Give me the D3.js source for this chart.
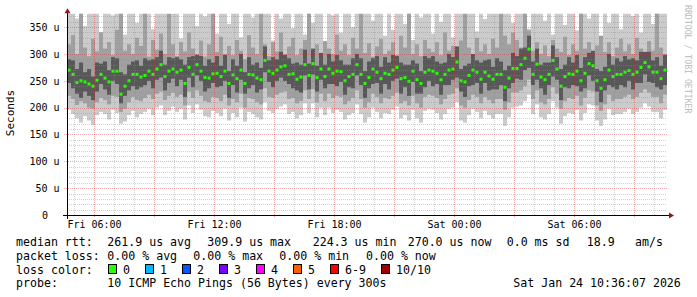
<!DOCTYPE html>
<html>
<head>
<meta charset="utf-8">
<script src="https://cdn.jsdelivr.net/npm/d3@7"></script>
<style>
    body { margin: 0; background: #fff; }
    text { font-family: "DejaVu Sans Mono", monospace; fill: #000; }
    .tick text { font-size: 10px; }
    .legend { font-size: 11.6px; white-space: pre; }
    .credit { font-size: 8.2px; fill: #bbb; }
</style>
</head>
<body>
<script>
// ---- data (values in microseconds, one column per 12 minutes) ----
const median = [
270,262,247,250,248,244,240,251,262,255,
248,268,268,225,240,250,262,262,257,260,
268,262,272,280,258,268,272,266,270,245,
275,262,280,268,256,255,263,264,258,268,
245,261,254,270,245,262,261,255,252,288,
268,264,270,276,278,262,263,253,257,280,
260,282,256,272,258,272,264,268,267,250,
258,262,280,262,245,256,272,266,254,264,
262,270,275,254,256,249,268,252,245,266,
270,268,264,252,262,270,272,285,250,248,
260,270,266,253,266,259,253,262,262,238,
255,273,273,280,292,309,262,281,257,252,
262,288,272,240,258,263,262,268,250,264,
282,278,250,236,252,270,258,262,262,266,
269,262,266,275,284,276,266,266,254,270
];

// outer smoke (fastest / slowest ping)
const pingMin = [
196,188,180,172,184,176,168,186,192,188,
178,196,190,170,174,186,194,182,188,192,
198,186,200,204,186,194,202,192,198,178,
204,190,206,196,184,182,194,190,184,198,
176,190,182,200,174,192,188,182,178,210,
194,190,198,202,206,188,192,180,186,208,
190,208,182,200,186,200,190,196,192,178,
186,190,206,188,172,182,200,192,180,190,
188,196,202,180,186,176,196,180,172,194,
198,196,190,178,188,198,200,210,176,172,
186,198,192,180,194,186,180,188,188,166,
182,200,202,204,212,224,188,206,182,178,
188,212,200,170,184,190,188,196,176,190,
206,204,176,166,178,198,186,188,188,192,
198,188,192,200,208,202,192,192,180,196
];
const pingMax = [
380,380,366,380,352,380,380,380,341,380,
380,372,380,380,336,380,380,358,380,380,
380,346,380,380,380,363,380,380,329,380,
380,380,352,380,370,380,380,338,380,380,
356,380,380,331,380,380,368,380,344,380,
380,325,380,366,380,380,348,380,380,336,
380,358,380,380,322,380,372,380,340,380,
380,350,380,328,380,380,362,380,380,334,
380,345,380,380,356,380,326,380,368,380,
380,338,380,360,380,380,331,380,380,352,
380,380,342,380,365,380,380,380,339,380,
380,358,380,380,380,347,380,380,380,362,
380,336,380,380,354,380,380,344,380,380,
366,380,380,332,380,358,380,380,346,380,
380,371,380,340,380,380,356,380,380,380
];

// middle smoke
const midLow = [
222,216,205,212,208,200,198,210,218,214,
206,222,220,192,198,210,220,214,212,218,
224,216,226,230,214,222,228,220,224,204,
230,218,232,222,212,210,220,218,212,224,
204,216,210,226,200,218,216,210,206,236,
220,218,224,228,230,216,218,208,212,232,
216,234,210,226,212,226,218,222,220,206,
212,218,232,216,200,210,226,220,208,218,
216,222,228,208,212,204,222,208,200,220,
224,222,218,206,216,224,226,236,204,200,
214,224,220,208,220,214,208,216,216,196,
210,228,228,232,240,252,216,232,210,206,
216,238,226,198,212,218,216,222,204,218,
232,230,204,194,206,224,212,216,216,220,
224,216,220,228,234,228,220,220,208,224
];
const midHigh = [
318,335,300,380,312,296,328,305,340,310,
322,298,345,380,306,318,300,330,315,380,
295,326,308,338,300,380,318,296,322,305,
340,310,300,325,295,318,380,304,332,300,
315,298,326,306,290,335,312,300,380,318,
296,322,305,340,300,314,330,298,310,326,
380,305,318,296,324,310,300,336,306,318,
298,330,310,380,302,320,295,314,328,300,
306,322,298,334,312,380,300,318,296,326,
310,304,322,298,340,306,315,300,325,380,
312,296,330,305,318,300,328,312,380,334,
318,340,326,312,380,344,306,322,300,316,
296,326,310,304,332,298,318,306,380,310,
322,300,316,334,304,322,296,312,328,305,
318,300,330,310,296,324,306,380,312,300
];

// inner smoke
const coreLow = [
246,236,226,218,230,222,214,230,244,234,
224,250,244,208,222,232,240,234,238,242,
250,236,252,256,232,246,254,240,252,220,
256,238,260,250,230,236,246,238,240,250,
218,242,228,252,226,236,242,228,234,266,
248,238,250,256,250,244,236,232,228,260,
234,262,230,252,236,244,244,240,248,224,
238,236,260,242,218,236,244,246,226,244,
234,250,254,226,238,222,248,226,226,238,
250,240,244,224,242,242,252,256,230,220,
240,242,246,226,246,232,234,234,242,212,
236,246,254,252,270,274,242,252,236,224,
242,258,252,214,238,236,242,240,230,236,
260,250,230,210,232,242,238,234,242,238,
250,234,246,246,262,248,246,238,234,242
];
const coreHigh = [
290,288,272,284,266,272,258,284,282,286,
270,294,292,266,262,280,286,288,278,292,
288,290,294,306,280,294,292,294,290,280,
294,296,298,296,278,290,284,296,278,298,
268,290,278,300,266,294,280,284,274,314,
288,294,290,304,298,292,282,284,280,308,
282,310,278,302,280,300,286,298,288,280,
280,292,300,292,268,286,292,296,276,294,
284,298,296,284,280,280,288,282,268,296,
292,296,286,282,284,300,294,314,272,278,
282,300,288,284,288,290,276,292,286,270,
278,302,296,310,312,334,286,310,280,284,
284,316,294,272,280,294,284,298,274,294,
302,306,272,268,276,300,280,292,286,296,
290,292,288,304,304,304,288,294,278,298
];

const yTicks = [0, 50, 100, 150, 200, 250, 300, 350];

const statLines = [
    ["median rtt:", "261.9 us avg", "309.9 us max", "224.3 us min", "270.0 us now", "0.0 ms sd", "18.9", "am/s"],
    ["packet loss:", "0.00 % avg", "0.00 % max", "0.00 % min", "0.00 % now"],
    ["probe:", "10 ICMP Echo Pings (56 Bytes) every 300s", "Sat Jan 24 10:36:07 2026"]
];
const statX = [
    [16, 107.3, 207.3, 312.7, 407.7, 506.7, 586.7, 635],
    [16, 107.3, 193.3, 279.3, 366],
    [16, 107.3, 513.3]
];

const lossLabels = ["0", "1", "2", "3", "4", "5", "6-9", "10/10"];
const lossColors = ["#26ff00", "#00b8ff", "#0059ff", "#7e00ff", "#ff00ff", "#ff5e00", "#ff0000", "#a10000"];

// ---- layout ----
const width = 697;
const height = 297;
const plotLeft = 67, plotRight = 667, plotBottom = 215, plotTop = 13.7;

const start = new Date(Date.UTC(2026, 0, 23, 4, 39));
const stepMs = 12 * 60 * 1000;
const end = new Date(start.getTime() + median.length * stepMs);
const times = median.map(function (d, i) {
    return new Date(start.getTime() + i * stepMs);
});

const x = d3.scaleUtc().domain([start, end]).range([plotLeft, plotRight]);
const y = d3.scaleLinear().domain([0, 375]).range([plotBottom, plotTop]);

const svg = d3.select("body")
    .append("svg")
    .attr("width", width)
    .attr("height", height);

svg.append("rect")
    .attr("width", width)
    .attr("height", height)
    .attr("fill", "#fff");

svg.append("defs").append("clipPath")
    .attr("id", "plot")
    .append("rect")
    .attr("x", plotLeft)
    .attr("y", plotTop)
    .attr("width", plotRight - plotLeft)
    .attr("height", plotBottom - plotTop);

const plot = svg.append("g").attr("clip-path", "url(#plot)");

// smoke layers, outer to inner
const layers = [
    { lo: pingMin, hi: pingMax, color: "#cbcbcb" },
    { lo: midLow, hi: midHigh, color: "#a0a0a0" },
    { lo: coreLow, hi: coreHigh, color: "#585858" }
];

layers.forEach(function (layer) {
    plot.append("g")
        .selectAll("rect")
        .data(times)
        .enter()
        .append("rect")
        .attr("x", function (d) { return x(d); })
        .attr("width", function (d) { return x(new Date(d.getTime() + stepMs)) - x(d); })
        .attr("y", function (d, i) { return y(layer.hi[i]); })
        .attr("height", function (d, i) { return y(layer.lo[i]) - y(layer.hi[i]); })
        .attr("fill", layer.color);
});

// median markers (loss colour 0)
plot.append("g")
    .selectAll("rect")
    .data(median)
    .enter()
    .append("rect")
    .attr("x", function (d, i) { return x(times[i]) + 0.5; })
    .attr("width", function (d, i) { return x(new Date(times[i].getTime() + stepMs)) - x(times[i]) - 1; })
    .attr("y", function (d) { return y(d) - 1.5; })
    .attr("height", 3)
    .attr("fill", lossColors[0]);

// grid, drawn over the data like rrdtool does (semi transparent)
const minorColor = "rgba(140,140,140,0.4)";
const majorColor = "rgba(215,40,40,0.38)";
const grid = svg.append("g").attr("shape-rendering", "crispEdges");

grid.selectAll(".hminor")
    .data(d3.range(10, 376, 10).filter(function (v) { return v % 50 !== 0; }))
    .enter()
    .append("line")
    .attr("x1", plotLeft).attr("x2", plotRight)
    .attr("y1", function (d) { return Math.round(y(d)) + 0.5; })
    .attr("y2", function (d) { return Math.round(y(d)) + 0.5; })
    .attr("stroke", minorColor)
    .attr("stroke-dasharray", "1,1");

grid.selectAll(".vminor")
    .data(d3.utcHour.range(start, end).filter(function (d) { return d.getUTCHours() % 3 !== 0; }))
    .enter()
    .append("line")
    .attr("x1", function (d) { return Math.round(x(d)) + 0.5; })
    .attr("x2", function (d) { return Math.round(x(d)) + 0.5; })
    .attr("y1", plotTop).attr("y2", plotBottom)
    .attr("stroke", minorColor)
    .attr("stroke-dasharray", "1,1");

grid.selectAll(".hmajor")
    .data(yTicks.slice(1))
    .enter()
    .append("line")
    .attr("x1", plotLeft - 3).attr("x2", plotRight)
    .attr("y1", function (d) { return Math.round(y(d)) + 0.5; })
    .attr("y2", function (d) { return Math.round(y(d)) + 0.5; })
    .attr("stroke", majorColor)
    .attr("stroke-dasharray", "1,1");

grid.selectAll(".vmajor")
    .data(d3.utcHour.every(3).range(start, end))
    .enter()
    .append("line")
    .attr("x1", function (d) { return Math.round(x(d)) + 0.5; })
    .attr("x2", function (d) { return Math.round(x(d)) + 0.5; })
    .attr("y1", plotTop).attr("y2", plotBottom + 3)
    .attr("stroke", majorColor)
    .attr("stroke-dasharray", "1,1");

// axes
const yAxis = svg.append("g")
    .attr("transform", "translate(" + plotLeft + ",0)")
    .call(d3.axisLeft(y)
        .tickValues(yTicks)
        .tickSize(0)
        .tickPadding(7.5)
        .tickFormat(function (d) { return d === 0 ? "0" : d + " u"; }));
yAxis.select(".domain").remove();
yAxis.selectAll(".tick text")
    .attr("x", function (d) { return d === 0 ? -19 : -7.5; });

const xAxis = svg.append("g")
    .attr("transform", "translate(0," + plotBottom + ")")
    .call(d3.axisBottom(x)
        .ticks(d3.utcHour.every(6))
        .tickSize(0)
        .tickPadding(6)
        .tickFormat(d3.utcFormat("%a %H:%M")));
xAxis.select(".domain").remove();

svg.append("line")
    .attr("x1", plotLeft - 4).attr("x2", plotRight + 4)
    .attr("y1", plotBottom + 0.5).attr("y2", plotBottom + 0.5)
    .attr("stroke", "#000");
svg.append("line")
    .attr("x1", plotLeft + 0.5).attr("x2", plotLeft + 0.5)
    .attr("y1", plotTop - 2).attr("y2", plotBottom + 4)
    .attr("stroke", "#000");

// rrdtool arrows
svg.append("path")
    .attr("d", "M" + (plotLeft - 2.5) + "," + (plotTop - 0.5) + "L" + (plotLeft + 0.5) + "," + (plotTop - 5.5) + "L" + (plotLeft + 3.5) + "," + (plotTop - 0.5) + "Z")
    .attr("fill", "#8b1a1a");
svg.append("path")
    .attr("d", "M" + (plotRight + 2) + "," + (plotBottom - 2.5) + "L" + (plotRight + 7) + "," + (plotBottom + 0.5) + "L" + (plotRight + 2) + "," + (plotBottom + 3.5) + "Z")
    .attr("fill", "#8b1a1a");

// axis title and credit
svg.append("text")
    .attr("transform", "translate(14,113) rotate(-90)")
    .attr("text-anchor", "middle")
    .style("font-size", "11px")
    .text("Seconds");

svg.append("text")
    .attr("class", "credit")
    .attr("transform", "translate(684.5,5) rotate(90)")
    .text("RRDTOOL / TOBI OETIKER");

// legend
const rowY = [245.5, 259.5, 287];
statLines.forEach(function (line, r) {
    line.forEach(function (t, c) {
        svg.append("text")
            .attr("class", "legend")
            .attr("x", statX[r][c])
            .attr("y", rowY[r])
            .text(t);
    });
});

svg.append("text")
    .attr("class", "legend")
    .attr("x", 16)
    .attr("y", 273.5)
    .text("loss color:");

const swatchX = [108.5, 145.5, 182.5, 219.5, 256.5, 293.5, 330.5, 381.5];
lossLabels.forEach(function (t, i) {
    svg.append("rect")
        .attr("x", swatchX[i])
        .attr("y", 264.5)
        .attr("width", 8)
        .attr("height", 9)
        .attr("fill", lossColors[i])
        .attr("stroke", "#000")
        .attr("stroke-width", 1);
    svg.append("text")
        .attr("class", "legend")
        .attr("x", swatchX[i] + 14.5)
        .attr("y", 273.5)
        .text(t);
});
</script>
</body>
</html>
